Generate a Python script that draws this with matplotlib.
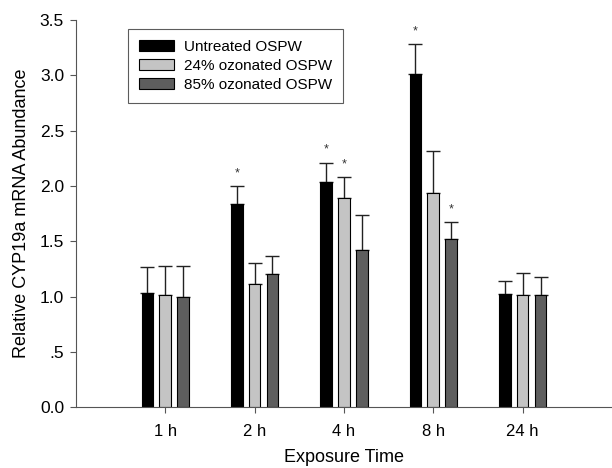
import matplotlib
matplotlib.use("Agg")
import matplotlib.pyplot as plt
import numpy as np

plt.rcParams['font.family'] = ['Liberation Sans', 'DejaVu Sans']

categories = ["1 h", "2 h", "4 h", "8 h", "24 h"]
series_names = ["Untreated OSPW", "24% ozonated OSPW", "85% ozonated OSPW"]
untreated = [1.03, 1.835, 2.04, 3.01, 1.02]
untreated_err = [0.24, 0.165, 0.17, 0.27, 0.12]
oz24 = [1.01, 1.11, 1.895, 1.94, 1.01]
oz24_err = [0.27, 0.19, 0.185, 0.38, 0.20]
oz85 = [1.00, 1.20, 1.42, 1.525, 1.01]
oz85_err = [0.28, 0.165, 0.32, 0.145, 0.17]
untreated_sig = [False, True, True, True, False]
oz24_sig = [False, False, True, False, False]
oz85_sig = [False, False, False, True, False]

colors = ["#000000", "#c4c4c4", "#5e5e5e"]
vals = [untreated, oz24, oz85]
errs = [untreated_err, oz24_err, oz85_err]
sigs = [untreated_sig, oz24_sig, oz85_sig]

fig = plt.figure(figsize=(6.12, 4.68), dpi=100)
ax = fig.add_axes([0.124, 0.130, 0.876, 0.827])

x = np.arange(1, len(categories) + 1)
offsets = [-0.2, 0.0, 0.2]
w = 0.13
for i in range(3):
    xs = x + offsets[i]
    ax.bar(xs, vals[i], width=w, color=colors[i], edgecolor="black",
           linewidth=0.8, label=series_names[i], zorder=2)
    ax.errorbar(xs, vals[i], yerr=[np.zeros(len(x)), errs[i]], fmt="none",
                ecolor="#222222", elinewidth=1.0, capsize=5, capthick=1.0, zorder=1)
    for xi, v, e, s in zip(xs, vals[i], errs[i], sigs[i]):
        if s:
            ax.annotate("*", (xi, v + e), xytext=(0, 5), textcoords="offset points",
                        ha="center", va="bottom", fontsize=9, color="#333333")

ax.set_xlim(0, 6)
ax.set_ylim(0, 3.5)
ax.set_xticks(x)
ax.set_xticklabels(categories, fontsize=12)
yt = [0, 0.5, 1.0, 1.5, 2.0, 2.5, 3.0, 3.5]
ax.set_yticks(yt)
ax.set_yticklabels(["0.0", ".5", "1.0", "1.5", "2.0", "2.5", "3.0", "3.5"], fontsize=12.5)
ax.tick_params(axis="y", direction="out", length=4.5, width=0.8, color="#555555", pad=4)
ax.tick_params(axis="x", direction="out", length=4, width=0.8, color="#555555", pad=8)
ax.spines["top"].set_visible(False)
ax.spines["right"].set_visible(False)
for s in ["left", "bottom"]:
    ax.spines[s].set_color("#555555")
    ax.spines[s].set_linewidth(0.8)
ax.set_ylabel("Relative CYP19a mRNA Abundance", fontsize=13, labelpad=7)
ax.set_xlabel("Exposure Time", fontsize=13, labelpad=7)

leg = ax.legend(loc="upper left", bbox_to_anchor=(0.097, 0.978), fontsize=11,
                frameon=True, fancybox=False, edgecolor="#333333",
                handlelength=2.3, handleheight=0.7, borderpad=0.75,
                labelspacing=0.32, handletextpad=0.6, borderaxespad=0)
leg.get_frame().set_linewidth(0.8)

fig.savefig("out.png", dpi=100)
